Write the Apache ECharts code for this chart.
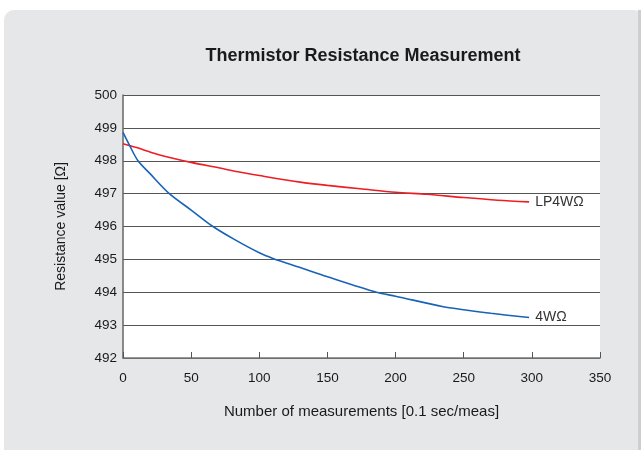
<!DOCTYPE html>
<html lang="en">
<head>
    <meta charset="UTF-8">
    <title>Thermistor Resistance Measurement</title>
    <script src="https://cdn.jsdelivr.net/npm/echarts@6/dist/echarts.min.js"></script>
    <style>
        html, body { margin: 0; padding: 0; background: #fff; }
    </style>
</head>
<body>

<div id="main" style="width: 641px;height: 450px"></div>

<script>
    // values
    var xTicks = [0, 50, 100, 150, 200, 250, 300, 350];
    var yTicks = [492, 493, 494, 495, 496, 497, 498, 499, 500];

    var lpCount = [0, 10, 25, 50, 71, 82, 100, 130, 150, 174, 200, 223, 250, 275, 298];
    var lpValue = [498.52, 498.4, 498.2, 497.95, 497.78, 497.68, 497.55, 497.35, 497.25, 497.15, 497.04, 496.98, 496.88, 496.8, 496.75];

    var fwCount = [0, 5, 11, 20, 34, 50, 66, 82, 100, 110, 130, 150, 186, 200, 235, 250, 270, 298];
    var fwValue = [498.86, 498.45, 498.0, 497.6, 497.0, 496.5, 496.0, 495.6, 495.2, 495.03, 494.75, 494.47, 494.0, 493.88, 493.56, 493.47, 493.36, 493.23];

    function pairs(xs, ys) {
        return xs.map(function (x, i) { return [x, ys[i]]; });
    }

    var myChart = echarts.init(document.getElementById('main'));
    var font = '"Liberation Sans", Arial, sans-serif';

    var option = {
        animation: false,
        textStyle: { fontFamily: font },
        graphic: [
            {
                type: 'rect',
                z: -10,
                shape: { x: 4, y: 10, width: 640, height: 460, r: 10 },
                style: { fill: '#e6e7e9' }
            },
            {
                type: 'rect',
                z: -9,
                shape: { x: 638, y: 10, width: 3, height: 440 },
                style: { fill: '#cdcecf' }
            }
        ],
        title: {
            text: 'Thermistor Resistance Measurement',
            left: 358,
            top: 42,
            textAlign: 'center',
            textStyle: { fontSize: 18, fontWeight: 'bold', color: '#1a1a1a', fontFamily: font }
        },
        grid: {
            left: 123,
            top: 95,
            width: 477,
            height: 263,
            show: true,
            backgroundColor: '#fff',
            borderWidth: 0
        },
        xAxis: {
            type: 'value',
            min: xTicks[0],
            max: xTicks[xTicks.length - 1],
            interval: 50,
            name: 'Number of measurements [0.1 sec/meas]',
            nameLocation: 'middle',
            nameGap: 46,
            nameTextStyle: { fontSize: 15, color: '#1a1a1a', fontFamily: font },
            axisLine: { show: true, lineStyle: { color: '#777', width: 1.5 } },
            axisTick: { show: true, inside: true, length: 6, lineStyle: { color: '#555' } },
            axisLabel: { fontSize: 13.5, color: '#1a1a1a', margin: 13, fontFamily: font },
            splitLine: { show: false }
        },
        yAxis: {
            type: 'value',
            min: yTicks[0],
            max: yTicks[yTicks.length - 1],
            interval: 1,
            name: 'Resistance value [Ω]',
            nameLocation: 'middle',
            nameRotate: 90,
            nameGap: 55,
            nameTextStyle: { fontSize: 14, color: '#1a1a1a', fontFamily: font },
            axisLine: { show: true, lineStyle: { color: '#666', width: 1.5 } },
            axisTick: { show: false },
            axisLabel: { fontSize: 13.5, color: '#1a1a1a', margin: 6, fontFamily: font },
            splitLine: { show: true, lineStyle: { color: '#555', width: 1 } }
        },
        series: [
            {
                name: 'LP4WΩ',
                type: 'line',
                data: pairs(lpCount, lpValue),
                smooth: 0.3,
                showSymbol: false,
                lineStyle: { color: '#ee1d24', width: 1.6 },
                itemStyle: { color: '#ee1d24' },
                endLabel: {
                    show: true,
                    formatter: '{a}',
                    distance: 6,
                    fontSize: 14,
                    color: '#333',
                    fontFamily: font
                }
            },
            {
                name: '4WΩ',
                type: 'line',
                data: pairs(fwCount, fwValue),
                smooth: 0.3,
                showSymbol: false,
                lineStyle: { color: '#1863b8', width: 1.6 },
                itemStyle: { color: '#1863b8' },
                endLabel: {
                    show: true,
                    formatter: '{a}',
                    distance: 6,
                    fontSize: 14,
                    color: '#333',
                    fontFamily: font
                }
            }
        ]
    };

    myChart.setOption(option);
</script>

</body>
</html>
